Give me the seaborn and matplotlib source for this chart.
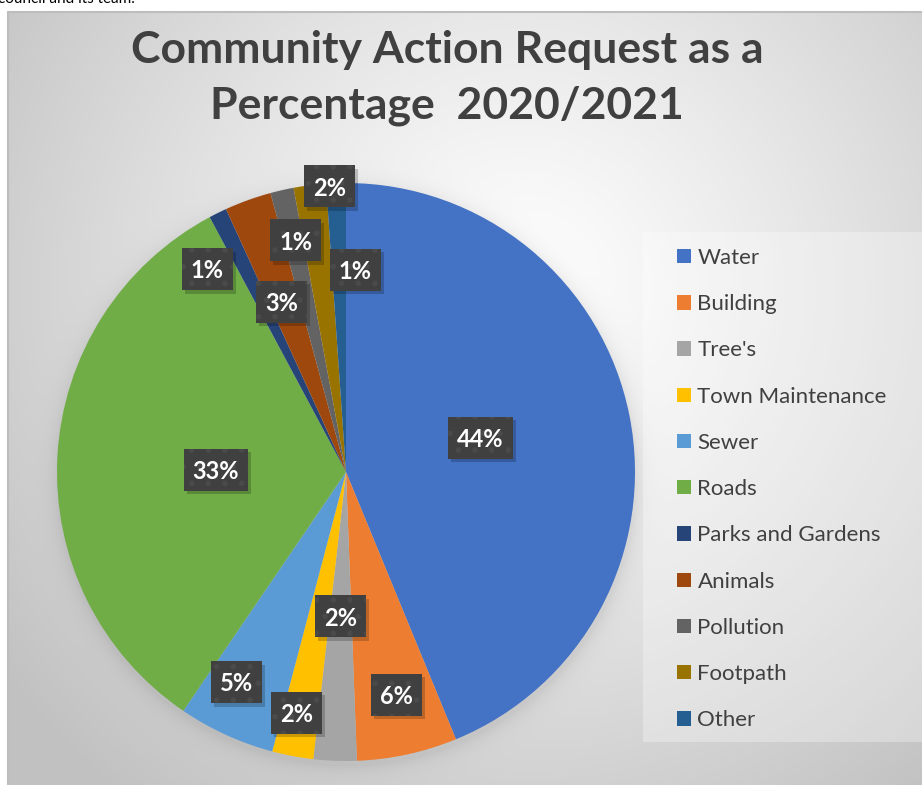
import numpy as np
import matplotlib
matplotlib.use("Agg")
import matplotlib.pyplot as plt
from matplotlib.patches import Rectangle, Patch
import seaborn as sns

# ---- data -------------------------------------------------------------
categories = ["Water", "Building", "Tree's", "Town Maintenance", "Sewer", "Roads",
              "Parks and Gardens", "Animals", "Pollution", "Footpath", "Other"]
shares = [43.7, 5.6, 2.4, 2.3, 5.4, 32.6, 1.0, 2.6, 1.3, 1.8, 1.1]
colors = ["#4472C4", "#ED7D31", "#A5A5A5", "#FFC000", "#5B9BD5", "#70AD47",
          "#264478", "#9E480E", "#636363", "#997300", "#255E91"]
title = "Community Action Request as a\nPercentage  2020/2021"

# label placement: radial fraction and angular nudge (degrees) per slice
label_radius = [0.48, 0.79, 0.50, 0.85, 0.82, 0.45, 0.85, 0.63, 0.82, 0.99, 0.70]
label_nudge = [3.0, 0.6, 0.0, -1.0, -3.0, 2.0, 8.0, 1.0, -0.5, -4.0, -4.6]

sns.set_theme(style="white")
plt.rcParams["font.family"] = ["Lato", "DejaVu Sans"]
plt.rcParams["hatch.linewidth"] = 1.6
palette = sns.color_palette(colors)

W, H = 922, 785
fig = plt.figure(figsize=(W / 100, H / 100), dpi=100)
fig.patch.set_facecolor("white")

# ---- background: radial grey gradient with soft pie shadow ---------------
bg = fig.add_axes([0, 0, 1, 1])
bg.set_xlim(0, W)
bg.set_ylim(H, 0)
bg.axis("off")

x0, y0 = 8, 12
yy, xx = np.mgrid[y0:H, x0:W].astype(float)
d = np.hypot(xx - 520, yy - 290) / 640.0
val = 1.0 - 0.24 * np.clip(d, 0, 1) ** 1.15
# outer shadow around the pie
cx, cy, r = 346, 476, 289
dist = np.hypot(xx - cx, yy - cy) - r
shadow = 0.08 * np.exp(-np.clip(dist, 0, None) / 9.0)
val = val * (1 - shadow)
img = np.dstack([val, val, val])
bg.imshow(img, extent=(x0, W, H, y0), interpolation="bilinear", zorder=0)
bg.plot([x0, x0], [H, y0], color="#BDBDBD", lw=1.5, zorder=1)
bg.plot([x0, W], [y0, y0], color="#BDBDBD", lw=1.5, zorder=1)
# faint panel behind the legend
bg.add_patch(Rectangle((643, 232), W - 643, 742 - 232, facecolor="white",
                       alpha=0.3, linewidth=0, zorder=1))
bg.text(-2, 3, "council and its team.", fontsize=11, color="black",
        va="baseline", ha="left")

# ---- pie --------------------------------------------------------------
pr = 289
ax = fig.add_axes([(346 - pr) / W, (H - 472 - pr) / H, 2 * pr / W, 2 * pr / H])
ax.patch.set_alpha(0)

wedges, _ = ax.pie(shares, colors=palette, startangle=90, counterclock=False,
                   radius=1.0, wedgeprops=dict(linewidth=0))
ax.set_xlim(-1, 1)
ax.set_ylim(-1, 1)
ax.axis("off")

renderer = fig.canvas.get_renderer()
total = sum(shares)
bh = 42 / pr
for w, v, rf, nd in zip(wedges, shares, label_radius, label_nudge):
    ang = np.deg2rad((w.theta1 + w.theta2) / 2 + nd)
    lx, ly = rf * np.cos(ang), rf * np.sin(ang)
    t = ax.text(lx, ly - 0.006, f"{round(v / total * 100)}%", ha="center",
                va="center", color="white", fontsize=17, fontweight="bold",
                zorder=5, clip_on=False)
    bw = (t.get_window_extent(renderer).width + 18) / pr
    # drop shadow, then the dark label box
    ax.add_patch(Rectangle((lx - bw / 2 + 0.010, ly - bh / 2 - 0.012), bw, bh,
                           facecolor="black", alpha=0.2, linewidth=0, zorder=3,
                           clip_on=False))
    ax.add_patch(Rectangle((lx - bw / 2, ly - bh / 2), bw, bh,
                           facecolor="#404040", edgecolor="#4A4A4A", hatch=".",
                           linewidth=0, zorder=4, clip_on=False))

# ---- title ------------------------------------------------------------
fig.text(447 / W, 1 - 78 / H, title, ha="center", va="center", fontsize=32,
         fontweight="bold", color="#404040", linespacing=1.45)

# ---- legend -----------------------------------------------------------
handles = [Patch(facecolor=c, edgecolor="none") for c in palette]
leg = fig.legend(handles, categories, loc="upper left",
                 bbox_to_anchor=(677 / W, 1 - 248 / H), frameon=False,
                 fontsize=16, labelcolor="#404040", handlelength=0.62,
                 handleheight=0.62, handletextpad=0.3, labelspacing=1.18,
                 borderpad=0, borderaxespad=0)

fig.savefig("out.png", dpi=100, facecolor="white")
